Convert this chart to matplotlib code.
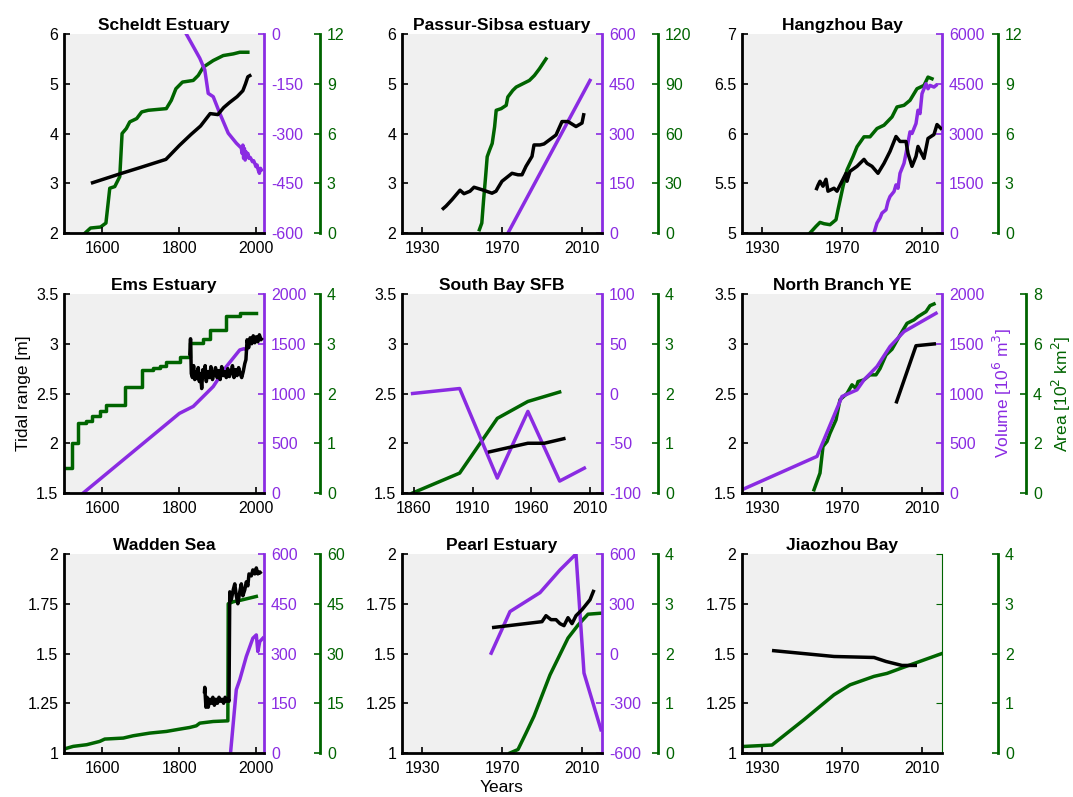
import matplotlib.pyplot as plt
from matplotlib.ticker import FuncFormatter

# ---- data ----
# Scheldt Estuary
sch_tr_yr = [1570, 1650, 1700, 1765, 1800, 1830, 1855, 1880, 1900, 1915, 1930, 1950, 1965, 1972, 1978, 1987]
sch_tr = [3.0, 3.2, 3.32, 3.48, 3.76, 3.98, 4.15, 4.40, 4.38, 4.52, 4.62, 4.74, 4.86, 5.0, 5.14, 5.18]
sch_vol_yr = [1818, 1853, 1866, 1875, 1888, 1905, 1927, 1948, 1961, 1963, 1965, 1967, 1969, 1971, 1973, 1975,
              1978, 1981, 1984, 1987, 1990, 1993, 1996, 1999, 2002, 2005, 2008, 2011, 2013]
sch_vol = [0, -73, -108, -179, -189, -239, -299, -329, -344, -360, -335, -375, -345, -380, -355, -370,
           -360, -375, -372, -378, -385, -382, -390, -400, -395, -410, -420, -405, -410]
sch_area_yr = [1555, 1569, 1595, 1609, 1619, 1632, 1645, 1651, 1662, 1671, 1689, 1702, 1719, 1766, 1779,
               1791, 1808, 1836, 1849, 1862, 1888, 1914, 1940, 1957, 1978]
sch_area = [0, 0.3, 0.36, 0.6, 2.7, 2.8, 3.4, 6.0, 6.3, 6.7, 6.9, 7.3, 7.4, 7.5, 8.0,
            8.7, 9.1, 9.2, 9.5, 10.0, 10.4, 10.7, 10.8, 10.9, 10.9]

# Passur-Sibsa estuary
pas_tr_yr = [1940, 1942, 1945, 1949, 1951, 1954, 1956, 1960, 1965, 1967, 1970, 1975, 1978, 1980, 1982,
             1985, 1986, 1989, 1991, 1995, 1997, 2000, 2003, 2007, 2010, 2011]
pas_tr = [2.47, 2.54, 2.67, 2.86, 2.79, 2.84, 2.92, 2.87, 2.80, 2.84, 3.04, 3.20, 3.17, 3.17, 3.34,
          3.54, 3.77, 3.77, 3.79, 3.91, 3.97, 4.24, 4.24, 4.14, 4.21, 4.41]
pas_vol_yr = [1973, 2014]
pas_vol = [0, 460]
pas_area_yr = [1958.7, 1959.9, 1960.8, 1961.8, 1962.6, 1963.8, 1965.1, 1966.3, 1967.1, 1969.6, 1972.1,
               1972.9, 1975.4, 1977.1, 1980.4, 1983.7, 1986.2, 1988.7, 1992]
pas_area = [2, 6, 20, 34, 46, 50, 54, 64, 74, 75, 77, 82, 86, 88, 90, 92, 95, 99, 105]

# Hangzhou Bay
hz_tr_yr = [1957, 1958, 1959, 1960.5, 1962, 1963, 1966, 1967.5, 1970, 1972, 1972.5, 1974, 1977.5, 1981,
            1982.5, 1985, 1988, 1991, 1994, 1997, 1999, 2002, 2003, 2005, 2007, 2008, 2011, 2013, 2016,
            2017.5, 2020]
hz_tr = [5.43, 5.48, 5.52, 5.47, 5.54, 5.42, 5.45, 5.42, 5.52, 5.60, 5.52, 5.62, 5.67, 5.74,
         5.70, 5.67, 5.60, 5.70, 5.82, 5.97, 5.92, 5.92, 5.80, 5.67, 5.77, 5.87, 5.75, 5.95, 5.99,
         6.09, 6.04]
hz_vol_yr = [1986, 1987.5, 1989, 1990, 1992, 1993, 1994, 1996, 1997, 1998, 1999, 2001, 2002, 2004, 2005,
             2007, 2008, 2009, 2010, 2012, 2013, 2014, 2016, 2017]
hz_vol = [0, 300, 450, 600, 700, 950, 1100, 1250, 1450, 1350, 1800, 2100, 2400, 3050, 3000,
          3300, 3700, 3600, 4200, 4500, 4350, 4450, 4400, 4450]
hz_area_yr = [1954, 1957, 1959, 1961, 1964, 1967, 1968, 1970.5, 1972.5, 1975.5, 1977.5, 1981, 1984,
              1987.5, 1991, 1995, 1997.5, 2001, 2004, 2007.5, 2011, 2013, 2015]
hz_area = [0, 0.4, 0.64, 0.56, 0.5, 0.8, 1.4, 2.8, 3.8, 4.6, 5.2, 5.8, 5.8,
           6.3, 6.5, 7.0, 7.6, 7.7, 8.0, 8.7, 8.9, 9.4, 9.3]

# Ems Estuary
ems_tr_yr = [1827, 1829, 1831, 1834, 1837, 1840, 1843, 1846, 1849, 1852, 1855, 1858, 1861, 1864, 1867,
             1870, 1874, 1878, 1882, 1886, 1890, 1894, 1898, 1902, 1906, 1910, 1914, 1918, 1922, 1926,
             1930, 1934, 1938, 1942, 1946, 1950, 1954, 1958, 1962, 1966, 1970, 1973, 1976, 1980, 1984,
             1988, 1992, 1996, 2000, 2004, 2008, 2012, 2016]
ems_tr = [2.88, 3.05, 2.70, 2.66, 2.78, 2.64, 2.72, 2.65, 2.76, 2.62, 2.70, 2.55, 2.74, 2.66, 2.78,
          2.62, 2.72, 2.66, 2.77, 2.64, 2.70, 2.76, 2.66, 2.73, 2.64, 2.77, 2.68, 2.72, 2.66, 2.75,
          2.67, 2.71, 2.78, 2.66, 2.74, 2.68, 2.76, 2.70, 2.66, 2.72, 2.80, 2.84, 3.04, 2.96, 3.06,
          3.00, 3.08, 3.01, 3.07, 3.02, 3.09, 3.04, 3.06]
ems_vol_yr = [1550, 1800, 1836, 1888, 1922, 1957, 1968, 1975]
ems_vol = [0, 800, 870, 1070, 1270, 1438, 1450, 1440]
ems_area_yr = [1500, 1522, 1537, 1557, 1572, 1593, 1609, 1658, 1702, 1732, 1749, 1766, 1801, 1827,
               1862, 1879, 1922, 1957, 2000]
ems_area = [0.5, 1.0, 1.4, 1.45, 1.55, 1.64, 1.77, 2.14, 2.47, 2.52, 2.56, 2.64, 2.74, 3.01,
            3.1, 3.28, 3.55, 3.61, 3.61]

# South Bay SFB
sb_tr_yr = [1923, 1957, 1971, 1989]
sb_tr = [1.91, 2.0, 2.0, 2.05]
sb_vol_yr = [1859, 1899, 1931, 1957, 1984, 2005]
sb_vol = [0, 5, -85, -18, -88, -75]
sb_area_yr = [1859, 1899, 1931, 1957, 1984]
sb_area = [0, 0.4, 1.5, 1.84, 2.03]

# North Branch YE
nb_tr_yr = [1997, 2007, 2017]
nb_tr = [2.40, 2.98, 3.0]
nb_vol_yr = [1920, 1957.5, 1970, 1977.5, 1981, 1987.5, 1994, 2001, 2017]
nb_vol = [33, 368, 970, 1037, 1137, 1271, 1472, 1622, 1806]
nb_area_yr = [1956, 1959, 1960.5, 1962.5, 1964, 1967, 1969, 1972.5, 1975, 1977, 1978, 1981, 1984, 1987,
              1989, 1992, 1995, 1999, 2002.5, 2006, 2008, 2012, 2014, 2016]
nb_area = [0.13, 0.8, 1.87, 2.07, 2.4, 2.94, 3.75, 4.0, 4.35, 4.2, 4.48, 4.55, 4.75, 4.75,
           5.0, 5.55, 5.78, 6.35, 6.82, 6.96, 7.09, 7.29, 7.53, 7.6]

# Wadden Sea
wad_tr_yr = [1865, 1866, 1869, 1872, 1875, 1879, 1883, 1887, 1891, 1895, 1899, 1903, 1907, 1911, 1915,
             1919, 1923, 1927, 1929, 1931, 1935, 1940, 1944, 1948, 1952, 1957, 1961, 1965, 1970, 1974,
             1978, 1981, 1987, 1991, 1996, 2000, 2004, 2009, 2013]
wad_tr = [1.30, 1.33, 1.23, 1.28, 1.23, 1.27, 1.25, 1.28, 1.24, 1.27, 1.25, 1.28, 1.26, 1.27, 1.25,
          1.28, 1.26, 1.27, 1.26, 1.81, 1.77, 1.82, 1.85, 1.79, 1.75, 1.81, 1.85, 1.79, 1.82, 1.86,
          1.84, 1.90, 1.89, 1.92, 1.90, 1.93, 1.90, 1.91, 1.90]
wad_vol_yr = [1933, 1948, 1957, 1974, 1991, 2000, 2004, 2009, 2017]
wad_vol = [0, 191, 221, 291, 346, 356, 306, 336, 346]
wad_area_yr = [1500, 1524, 1559, 1593, 1606, 1654, 1680, 1723, 1766, 1801, 1827, 1844, 1853, 1888, 1926,
               1927, 1940, 1957, 2000]
wad_area = [1.2, 2.0, 2.5, 3.5, 4.2, 4.5, 5.2, 6.0, 6.5, 7.2, 7.7, 8.2, 9.0, 9.5, 9.7,
            45, 45.6, 46, 47.2]

# Pearl Estuary
pe_tr_yr = [1965, 1990, 1992, 1994.5, 1997, 1999, 2001, 2003, 2005, 2007, 2010, 2014, 2016]
pe_tr = [1.63, 1.66, 1.69, 1.67, 1.67, 1.65, 1.64, 1.68, 1.65, 1.69, 1.72, 1.77, 1.82]
pe_vol_yr = [1964.6, 1974, 1989, 1999, 2007, 2011, 2019.5]
pe_vol = [2, 253, 367, 504, 600, -118, -460]
pe_area_yr = [1974, 1978, 1982, 1986, 1994, 2003, 2008, 2013, 2019.5]
pe_area = [0, 0.07, 0.4, 0.74, 1.57, 2.31, 2.57, 2.79, 2.81]

# Jiaozhou Bay
jz_tr_yr = [1935, 1966, 1986, 1992, 2000, 2007.5]
jz_tr = [1.515, 1.485, 1.48, 1.46, 1.44, 1.44]
jz_area_yr = [1920, 1935, 1951, 1966, 1974, 1986, 1992.5, 2004, 2020]
jz_area = [0.13, 0.16, 0.67, 1.17, 1.37, 1.54, 1.6, 1.77, 2.0]

# ---- style ----
plt.rcParams['font.family'] = ['Liberation Sans', 'DejaVu Sans']
plt.rcParams['font.size'] = 11.5

PURPLE = '#8a2be2'
GREEN = '#006400'
BG = '#f0f0f0'
LW = 2.5
fmt = FuncFormatter(lambda v, p: f'{v:g}')

W, H = 1073, 797
COL_X = [64, 402, 742]
ROW_Y = [34, 294, 554]
AX_W, AX_H = 200, 199

fig = plt.figure(figsize=(W / 100, H / 100), dpi=100)


def yaxis_style(a, color, side):
    a.yaxis.set_major_formatter(fmt)
    a.tick_params(axis='y', direction='in', length=4, width=1.2, colors=color, pad=5 if side == 'right' else 4)


def panel(col, row, title, xlim, xticks, tr_yr, tr, tr_lim, vol_yr, vol, vol_lim, area_yr, area, area_lim,
          steps=False, green_off=0.28):
    l, t = COL_X[col], ROW_Y[row]
    ax = fig.add_axes([l / W, (H - t - AX_H) / H, AX_W / W, AX_H / H])
    gax = ax.twinx()
    pax = ax.twinx()
    ax.set_zorder(3)
    pax.set_zorder(2)
    gax.set_zorder(1)
    ax.patch.set_visible(False)
    pax.patch.set_visible(False)
    gax.patch.set_visible(True)
    gax.patch.set_facecolor(BG)

    # black: tidal range
    ax.plot(tr_yr, tr, color='black', lw=LW, solid_capstyle='butt')
    ax.set_xlim(xlim[0], xlim[1])
    ax.set_xticks(xticks)
    ax.set_ylim(tr_lim[0], tr_lim[1])
    ax.set_yticks(tr_lim[2])
    yaxis_style(ax, 'black', 'left')
    ax.tick_params(axis='x', direction='in', length=4, width=1.2, pad=6)
    for s in ['top', 'right']:
        ax.spines[s].set_visible(False)
    ax.spines['left'].set_linewidth(2)
    ax.spines['bottom'].set_linewidth(2)
    ax.set_title(title, fontweight='bold', fontsize=12.5, pad=3)

    # purple: volume
    for s in ['top', 'left', 'bottom']:
        pax.spines[s].set_visible(False)
    if vol_lim is not None:
        pax.plot(vol_yr, vol, color=PURPLE, lw=LW)
        pax.set_ylim(vol_lim[0], vol_lim[1])
        pax.set_yticks(vol_lim[2])
        yaxis_style(pax, PURPLE, 'right')
        pax.spines['right'].set_color(PURPLE)
        pax.spines['right'].set_linewidth(2)
    else:
        pax.set_ylim(tr_lim[0], tr_lim[1])
        pax.set_yticks(tr_lim[2])
        pax.tick_params(axis='y', direction='in', length=4, width=0.8, colors=GREEN, labelright=False)
        pax.spines['right'].set_color(GREEN)
        pax.spines['right'].set_linewidth(0.8)

    # green: area
    gax.plot(area_yr, area, color=GREEN, lw=LW, drawstyle='steps-post' if steps else 'default')
    gax.set_ylim(area_lim[0], area_lim[1])
    gax.set_yticks(area_lim[2])
    yaxis_style(gax, GREEN, 'right')
    for s in ['top', 'left', 'bottom']:
        gax.spines[s].set_visible(False)
    gax.spines['right'].set_position(('axes', 1 + green_off))
    gax.spines['right'].set_color(GREEN)
    gax.spines['right'].set_linewidth(2)
    return ax, pax, gax


def rng(a, b, n):
    step = (b - a) / n
    return [a + i * step for i in range(n + 1)]


X_OLD = (1500, 2020)
X_OLD_T = [1600, 1800, 2000]
X_NEW = (1920, 2020)
X_NEW_T = [1930, 1970, 2010]

panel(0, 0, 'Scheldt Estuary', X_OLD, X_OLD_T, sch_tr_yr, sch_tr, (2, 6, rng(2, 6, 4)),
      sch_vol_yr, sch_vol, (-600, 0, rng(-600, 0, 4)), sch_area_yr, sch_area, (0, 12, rng(0, 12, 4)))
panel(1, 0, 'Passur-Sibsa estuary', X_NEW, X_NEW_T, pas_tr_yr, pas_tr, (2, 6, rng(2, 6, 4)),
      pas_vol_yr, pas_vol, (0, 600, rng(0, 600, 4)), pas_area_yr, pas_area, (0, 120, rng(0, 120, 4)))
panel(2, 0, 'Hangzhou Bay', X_NEW, X_NEW_T, hz_tr_yr, hz_tr, (5, 7, rng(5, 7, 4)),
      hz_vol_yr, hz_vol, (0, 6000, rng(0, 6000, 4)), hz_area_yr, hz_area, (0, 12, rng(0, 12, 4)))

ax_ems, _, _ = panel(0, 1, 'Ems Estuary', X_OLD, X_OLD_T, ems_tr_yr, ems_tr, (1.5, 3.5, rng(1.5, 3.5, 4)),
                     ems_vol_yr, ems_vol, (0, 2000, rng(0, 2000, 4)), ems_area_yr, ems_area,
                     (0, 4, rng(0, 4, 4)), steps=True)
ax_ems.set_ylabel('Tidal range [m]', fontsize=12.5, labelpad=4)
panel(1, 1, 'South Bay SFB', (1850, 2020), [1860, 1910, 1960, 2010], sb_tr_yr, sb_tr,
      (1.5, 3.5, rng(1.5, 3.5, 4)), sb_vol_yr, sb_vol, (-100, 100, rng(-100, 100, 4)),
      sb_area_yr, sb_area, (0, 4, rng(0, 4, 4)))
_, p_nb, g_nb = panel(2, 1, 'North Branch YE', X_NEW, X_NEW_T, nb_tr_yr, nb_tr, (1.5, 3.5, rng(1.5, 3.5, 4)),
                      nb_vol_yr, nb_vol, (0, 2000, rng(0, 2000, 4)), nb_area_yr, nb_area,
                      (0, 8, rng(0, 8, 4)), green_off=0.42)
p_nb.set_ylabel('Volume [10$^6$ m$^3$]', color=PURPLE, fontsize=12.5, labelpad=5)
g_nb.set_ylabel('Area [10$^2$ km$^2$]', color=GREEN, fontsize=12.5, labelpad=6)

panel(0, 2, 'Wadden Sea', X_OLD, X_OLD_T, wad_tr_yr, wad_tr, (1, 2, rng(1, 2, 4)),
      wad_vol_yr, wad_vol, (0, 600, rng(0, 600, 4)), wad_area_yr, wad_area, (0, 60, rng(0, 60, 4)))
ax_pe, _, _ = panel(1, 2, 'Pearl Estuary', X_NEW, X_NEW_T, pe_tr_yr, pe_tr, (1, 2, rng(1, 2, 4)),
                    pe_vol_yr, pe_vol, (-600, 600, rng(-600, 600, 4)), pe_area_yr, pe_area, (0, 4, rng(0, 4, 4)))
ax_pe.set_xlabel('Years', fontsize=12.5, labelpad=3)
panel(2, 2, 'Jiaozhou Bay', X_NEW, X_NEW_T, jz_tr_yr, jz_tr, (1, 2, rng(1, 2, 4)),
      None, None, None, jz_area_yr, jz_area, (0, 4, rng(0, 4, 4)))

fig.savefig('out.png', dpi=100, facecolor='white')
